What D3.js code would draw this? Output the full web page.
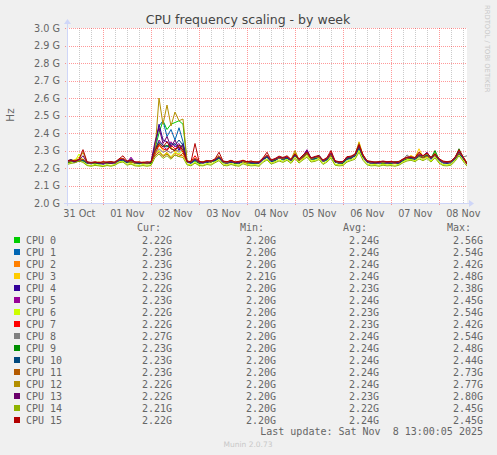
<!DOCTYPE html>
<html>
<head>
<meta charset="utf-8">
<script src="https://cdn.jsdelivr.net/npm/d3@7"></script>
<style>
  body { margin: 0; background: #f0f0f0; }
  text { font-family: "DejaVu Sans", sans-serif; }
  .mono { font-family: "DejaVu Sans Mono", monospace; }
</style>
</head>
<body>
<div id="chart"></div>
<script>
//series names + munin colours
const cpuNames = ["CPU 0","CPU 1","CPU 2","CPU 3","CPU 4","CPU 5","CPU 6","CPU 7",
  "CPU 8","CPU 9","CPU 10","CPU 11","CPU 12","CPU 13","CPU 14","CPU 15"];
const cpuColors = ["#00CC00","#0066B3","#FF8000","#FFCC00","#330099","#990099","#CCFF00","#FF0000",
  "#808080","#008F00","#00487D","#B35A00","#B38F00","#6B006B","#8FB300","#B30000"];

//samples every 2 hours from the graph start, in MHz
const startTime = new Date(2025, 9, 31, 5, 50);
const endTime = new Date(2025, 10, 8, 13, 50);
const stepHours = 2;

const cpu0 = [2235,2240,2232,2245,2240,2228,2225,2230,2222,2226, 2224,2230,2228,2245,2240,2232,2238,2226,2224,2228,
  2226,2230,2310,2400,2470,2420,2450,2460,2470,2450, 2236,2228,2240,2226,2230,2232,2242,2240,2255,2234,
  2226,2240,2228,2224,2238,2230,2226,2228,2232,2248, 2262,2240,2244,2258,2248,2262,2240,2270,2244,2262,
  2280,2248,2252,2262,2238,2250,2275,2234,2226,2228, 2250,2258,2270,2310,2262,2236,2226,2228,2232,2224,
  2226,2230,2228,2226,2242,2252,2250,2256,2270,2258, 2272,2252,2290,2246,2230,2228,2232,2254,2290,2258, 2220];
const cpu1 = [2238,2250,2236,2240,2245,2230,2228,2226,2230,2224, 2228,2226,2232,2242,2248,2230,2236,2228,2226,2230,
  2224,2228,2320,2440,2470,2380,2420,2360,2430,2350, 2240,2226,2250,2230,2226,2236,2238,2245,2262,2232,
  2230,2236,2226,2230,2240,2228,2232,2226,2230,2252, 2270,2238,2240,2262,2245,2255,2242,2280,2246,2266,
  2290,2250,2258,2272,2236,2246,2285,2236,2228,2232, 2255,2250,2278,2320,2265,2232,2230,2226,2228,2230,
  2228,2226,2232,2230,2245,2256,2262,2250,2275,2262, 2270,2250,2276,2242,2228,2232,2226,2250,2285,2254, 2230];
const cpu2 = [2232,2236,2242,2238,2250,2234,2226,2232,2228,2236, 2230,2238,2226,2252,2255,2236,2232,2230,2236,2226,
  2228,2232,2280,2300,2270,2290,2260,2285,2275,2270, 2232,2240,2255,2236,2228,2242,2232,2250,2266,2238,
  2232,2245,2230,2236,2234,2226,2240,2232,2228,2256, 2268,2242,2250,2255,2256,2260,2248,2282,2240,2258,
  2278,2255,2262,2258,2242,2255,2268,2238,2230,2236, 2262,2265,2275,2325,2275,2240,2232,2234,2228,2236,
  2230,2234,2226,2236,2248,2255,2258,2252,2268,2256, 2265,2258,2270,2250,2236,2230,2234,2256,2280,2262, 2232];
const cpu3 = [2236,2242,2248,2262,2245,2232,2230,2228,2234,2230, 2226,2232,2230,2246,2250,2234,2240,2232,2228,2234,
  2230,2226,2295,2330,2300,2310,2320,2290,2305,2315, 2238,2234,2248,2232,2236,2240,2235,2248,2260,2236,
  2228,2242,2236,2230,2246,2232,2230,2236,2234,2250, 2265,2245,2248,2262,2250,2258,2245,2290,2248,2270,
  2285,2252,2256,2266,2240,2252,2270,2240,2232,2230, 2258,2262,2270,2350,2272,2238,2230,2232,2236,2228,
  2232,2230,2236,2234,2248,2258,2272,2258,2310,2262, 2278,2256,2280,2252,2234,2236,2230,2258,2295,2260, 2232];
const cpu4 = [2230,2238,2232,2240,2246,2228,2224,2230,2226,2222, 2228,2226,2224,2240,2246,2230,2255,2226,2230,2228,
  2226,2230,2330,2450,2360,2350,2330,2340,2300,2340, 2232,2228,2246,2228,2232,2230,2240,2242,2258,2230,
  2226,2232,2230,2228,2236,2234,2228,2230,2226,2246, 2262,2236,2242,2256,2250,2258,2240,2272,2244,2264,
  2300,2248,2254,2272,2236,2248,2278,2232,2230,2226, 2250,2256,2268,2315,2262,2234,2226,2230,2228,2232,
  2226,2228,2230,2226,2242,2258,2256,2250,2268,2262, 2282,2250,2272,2244,2230,2226,2232,2252,2288,2256, 2222];
const cpu5 = [2234,2236,2240,2244,2248,2232,2230,2226,2232,2228, 2230,2234,2228,2248,2252,2232,2262,2230,2228,2232,
  2230,2226,2300,2360,2330,2300,2350,2320,2340,2300, 2236,2232,2250,2234,2230,2238,2236,2246,2262,2234,
  2232,2238,2228,2234,2240,2230,2234,2228,2232,2250, 2266,2240,2246,2260,2252,2262,2244,2276,2246,2268,
  2305,2252,2258,2266,2240,2252,2282,2236,2228,2234, 2254,2260,2272,2320,2268,2236,2232,2228,2234,2230,
  2230,2232,2228,2234,2246,2256,2260,2254,2272,2266, 2290,2254,2278,2248,2232,2230,2236,2256,2290,2258, 2232];
const cpu6 = [2225,2232,2240,2280,2236,2218,2214,2220,2216,2212, 2218,2215,2220,2235,2240,2222,2226,2218,2214,2220,
  2216,2218,2280,2300,2270,2285,2265,2290,2280,2300, 2222,2218,2232,2220,2216,2226,2222,2236,2248,2224,
  2218,2226,2220,2216,2230,2222,2218,2220,2216,2238, 2252,2228,2236,2246,2238,2250,2232,2262,2232,2252,
  2270,2240,2244,2254,2226,2240,2262,2222,2218,2220, 2240,2248,2258,2300,2250,2224,2218,2220,2216,2222,
  2218,2220,2216,2222,2236,2246,2250,2242,2260,2248, 2262,2240,2266,2234,2220,2218,2222,2244,2278,2246, 2220];
const cpu7 = [2236,2240,2238,2246,2250,2230,2228,2232,2226,2230, 2232,2228,2234,2250,2255,2236,2240,2232,2230,2226,
  2232,2228,2280,2330,2310,2300,2330,2310,2320,2290, 2238,2236,2270,2236,2232,2240,2238,2248,2270,2236,
  2230,2242,2232,2236,2240,2232,2236,2230,2234,2256, 2275,2244,2250,2262,2256,2266,2246,2280,2248,2272,
  2292,2256,2260,2268,2242,2256,2290,2240,2232,2236, 2260,2264,2276,2330,2272,2240,2234,2232,2236,2232,
  2234,2236,2230,2236,2250,2260,2262,2256,2282,2266, 2280,2258,2282,2250,2236,2232,2238,2258,2296,2262, 2222];
const cpu8 = [2232,2238,2236,2242,2248,2230,2226,2228,2232,2226, 2230,2232,2226,2244,2250,2232,2238,2228,2232,2230,
  2228,2232,2290,2310,2290,2300,2285,2305,2290,2310, 2234,2230,2250,2232,2228,2236,2240,2244,2262,2234,
  2228,2236,2232,2230,2242,2228,2232,2234,2230,2248, 2266,2242,2246,2258,2252,2260,2242,2276,2244,2266,
  2286,2250,2256,2264,2238,2250,2276,2238,2230,2232, 2256,2260,2270,2318,2266,2236,2228,2232,2230,2234,
  2228,2232,2234,2230,2246,2275,2256,2252,2270,2262, 2276,2254,2278,2246,2232,2234,2230,2254,2288,2262, 2270];
const cpu9 = [2230,2236,2240,2238,2246,2232,2228,2224,2230,2228, 2226,2232,2230,2246,2248,2234,2236,2230,2226,2232,
  2230,2226,2300,2340,2320,2330,2310,2300,2330,2320, 2236,2232,2252,2228,2234,2236,2234,2246,2260,2232,
  2230,2238,2226,2234,2238,2230,2230,2232,2228,2252, 2264,2240,2244,2260,2250,2258,2244,2278,2242,2264,
  2288,2252,2254,2268,2240,2248,2280,2236,2232,2228, 2252,2258,2272,2322,2264,2238,2232,2228,2234,2228,
  2232,2228,2236,2232,2244,2254,2258,2254,2272,2260, 2274,2256,2300,2248,2234,2230,2236,2256,2310,2260, 2230];
const cpu10 = [2240,2244,2236,2240,2242,2228,2232,2230,2226,2232, 2228,2230,2232,2244,2246,2230,2250,2232,2228,2226,
  2232,2230,2310,2350,2330,2320,2340,2330,2360,2330, 2238,2230,2248,2234,2230,2238,2236,2242,2256,2238,
  2232,2234,2230,2232,2238,2234,2230,2226,2232,2250, 2262,2238,2248,2258,2254,2256,2246,2274,2248,2262,
  2284,2254,2252,2262,2242,2250,2272,2238,2228,2234, 2254,2262,2268,2316,2270,2236,2230,2234,2230,2236,
  2230,2234,2230,2228,2244,2256,2254,2250,2266,2258, 2272,2252,2274,2244,2236,2228,2234,2250,2282,2256, 2230];
const cpu11 = [2234,2238,2244,2236,2252,2230,2230,2236,2232,2228, 2234,2236,2230,2250,2252,2238,2234,2228,2234,2230,
  2226,2234,2270,2290,2265,2280,2255,2275,2265,2285, 2236,2238,2254,2230,2236,2244,2234,2250,2264,2236,
  2230,2244,2232,2238,2236,2230,2238,2234,2230,2254, 2270,2244,2252,2256,2254,2262,2246,2284,2242,2260,
  2282,2252,2264,2260,2240,2254,2274,2240,2232,2234, 2266,2262,2278,2326,2270,2238,2234,2230,2232,2234,
  2232,2236,2228,2234,2250,2254,2260,2256,2270,2258, 2268,2256,2274,2248,2234,2232,2236,2254,2284,2264, 2230];
const cpu12 = [2236,2240,2244,2250,2290,2234,2230,2228,2234,2230, 2228,2234,2232,2248,2250,2236,2242,2230,2232,2228,
  2230,2232,2300,2600,2450,2560,2440,2520,2470,2480, 2240,2234,2256,2232,2234,2240,2238,2250,2270,2236,
  2232,2240,2230,2234,2240,2232,2236,2230,2234,2254, 2272,2242,2250,2262,2256,2264,2248,2300,2246,2268,
  2290,2254,2260,2264,2242,2256,2282,2238,2230,2234, 2258,2264,2274,2345,2272,2240,2232,2230,2234,2230,
  2234,2232,2230,2234,2248,2258,2264,2256,2290,2266, 2282,2258,2284,2250,2236,2232,2234,2258,2296,2264, 2222];
const cpu13 = [2238,2242,2236,2246,2270,2232,2228,2232,2230,2226, 2232,2228,2234,2246,2250,2234,2244,2232,2230,2232,
  2228,2234,2350,2430,2340,2380,2320,2360,2310,2330, 2236,2232,2252,2234,2230,2238,2240,2246,2264,2236,
  2234,2236,2232,2230,2242,2236,2232,2234,2230,2252, 2270,2242,2250,2262,2256,2262,2246,2280,2248,2270,
  2302,2256,2262,2270,2240,2254,2284,2238,2232,2234, 2258,2262,2276,2326,2268,2238,2234,2230,2232,2236,
  2232,2234,2232,2230,2248,2262,2260,2256,2276,2270, 2288,2256,2280,2250,2234,2232,2236,2258,2294,2262, 2222];
const cpu14 = [2220,2226,2230,2240,2232,2214,2210,2215,2212,2208, 2214,2210,2216,2230,2234,2216,2222,2212,2210,2214,
  2210,2214,2260,2280,2255,2270,2250,2275,2265,2260, 2218,2212,2228,2214,2212,2220,2216,2230,2242,2216,
  2212,2220,2214,2210,2224,2216,2212,2214,2210,2232, 2246,2222,2230,2240,2232,2244,2226,2255,2228,2246,
  2262,2234,2238,2248,2220,2234,2256,2216,2212,2214, 2234,2242,2250,2290,2244,2218,2212,2214,2210,2216,
  2212,2214,2210,2216,2230,2240,2244,2236,2252,2242, 2254,2234,2258,2228,2214,2212,2216,2238,2270,2240, 2210];
const cpu15 = [2242,2246,2240,2250,2305,2236,2232,2234,2230,2236, 2234,2236,2232,2252,2270,2240,2246,2236,2234,2232,
  2236,2234,2300,2340,2320,2350,2310,2300,2330,2300, 2240,2236,2340,2238,2234,2242,2240,2252,2290,2240,
  2236,2244,2234,2238,2244,2236,2240,2234,2236,2258, 2290,2246,2254,2268,2260,2270,2250,2280,2252,2274,
  2290,2258,2266,2272,2246,2260,2300,2242,2236,2238, 2264,2268,2280,2335,2276,2242,2238,2234,2236,2240,
  2236,2238,2234,2238,2252,2262,2264,2260,2290,2270, 2285,2262,2280,2254,2240,2236,2240,2262,2305,2266, 2222];

//legend columns
const curValues = ["2.22G","2.23G","2.23G","2.23G","2.22G","2.23G","2.22G","2.22G","2.27G","2.23G","2.23G","2.23G","2.22G","2.22G","2.21G","2.22G"];
const minValues = ["2.20G","2.20G","2.20G","2.21G","2.20G","2.20G","2.20G","2.20G","2.20G","2.20G","2.20G","2.20G","2.20G","2.20G","2.20G","2.20G"];
const avgValues = ["2.24G","2.24G","2.24G","2.24G","2.23G","2.24G","2.23G","2.23G","2.24G","2.24G","2.24G","2.24G","2.24G","2.23G","2.22G","2.24G"];
const maxValues = ["2.56G","2.54G","2.42G","2.48G","2.38G","2.45G","2.54G","2.42G","2.54G","2.48G","2.44G","2.73G","2.77G","2.80G","2.45G","2.45G"];

//y ticks in Hz
const yTicks = [2.0e9,2.1e9,2.2e9,2.3e9,2.4e9,2.5e9,2.6e9,2.7e9,2.8e9,2.9e9,3.0e9];

const allSeries = [cpu0,cpu1,cpu2,cpu3,cpu4,cpu5,cpu6,cpu7,cpu8,cpu9,cpu10,cpu11,cpu12,cpu13,cpu14,cpu15];

//chart size
const width = 497;
const height = 455;
const plot = { left: 67, right: 467, top: 28, bottom: 203 };

const svg = d3.select("#chart")
  .append("svg")
  .attr("width", width)
  .attr("height", height);

svg.append("rect").attr("width", width).attr("height", height).attr("fill", "#f0f0f0");

const xScale = d3.scaleTime()
  .domain([startTime, endTime])
  .range([plot.left, plot.right]);

const yScale = d3.scaleLinear()
  .domain([2.0e9, 3.0e9])
  .range([plot.bottom, plot.top]);

//canvas
svg.append("rect")
  .attr("x", plot.left).attr("y", plot.top)
  .attr("width", plot.right - plot.left).attr("height", plot.bottom - plot.top)
  .attr("fill", "#ffffff");

//vertical grid: minor every 6h, major at midnight
const gridTimes = d3.timeHour.every(6).range(startTime, endTime);
svg.append("g")
  .selectAll("line")
  .data(gridTimes)
  .join("line")
  .attr("x1", d => Math.round(xScale(d)) + 0.5)
  .attr("x2", d => Math.round(xScale(d)) + 0.5)
  .attr("y1", plot.top)
  .attr("y2", d => d.getHours() === 0 ? plot.bottom + 3 : plot.bottom)
  .attr("stroke", d => d.getHours() === 0 ? "#ff0000" : "#8c8c8c")
  .attr("stroke-opacity", d => d.getHours() === 0 ? 0.4 : 0.45)
  .attr("stroke-dasharray", "1,1");

//horizontal grid
svg.append("g")
  .selectAll("line")
  .data(yTicks)
  .join("line")
  .attr("x1", plot.left - 2)
  .attr("x2", plot.right)
  .attr("y1", d => Math.round(yScale(d)) + 0.5)
  .attr("y2", d => Math.round(yScale(d)) + 0.5)
  .attr("stroke", "#ff0000")
  .attr("stroke-opacity", 0.4)
  .attr("stroke-dasharray", "1,1");

//data lines
svg.append("clipPath").attr("id", "clip")
  .append("rect")
  .attr("x", plot.left).attr("y", plot.top)
  .attr("width", plot.right - plot.left).attr("height", plot.bottom - plot.top);

const line = d3.line()
  .x((d, i) => xScale(d3.timeHour.offset(startTime, i * stepHours)))
  .y(d => yScale(d * 1e6));

svg.append("g")
  .attr("clip-path", "url(#clip)")
  .selectAll("path")
  .data(allSeries)
  .join("path")
  .attr("d", line)
  .attr("fill", "none")
  .attr("stroke", (d, i) => cpuColors[i])
  .attr("stroke-width", 1)
  .attr("stroke-linejoin", "miter");

//axes with arrows
const axisColor = "#CFD6F8";
svg.append("line")
  .attr("x1", plot.left - 3).attr("x2", plot.right + 2)
  .attr("y1", plot.bottom + 0.5).attr("y2", plot.bottom + 0.5)
  .attr("stroke", axisColor);
svg.append("line")
  .attr("x1", plot.left + 0.5).attr("x2", plot.left + 0.5)
  .attr("y1", plot.bottom + 3).attr("y2", plot.top - 4)
  .attr("stroke", axisColor);
svg.append("path")
  .attr("d", `M${plot.right + 2},${plot.bottom - 3} L${plot.right + 7},${plot.bottom + 0.5} L${plot.right + 2},${plot.bottom + 4} Z`)
  .attr("fill", axisColor);
svg.append("path")
  .attr("d", `M${plot.left - 3},${plot.top - 4} L${plot.left + 0.5},${plot.top - 9} L${plot.left + 4},${plot.top - 4} Z`)
  .attr("fill", axisColor);

//y tick labels
svg.append("g")
  .selectAll("text")
  .data(yTicks)
  .join("text")
  .attr("x", plot.left - 7)
  .attr("y", d => yScale(d) + 3.5)
  .attr("text-anchor", "end")
  .attr("font-size", "9.7px")
  .attr("fill", "#666666")
  .text(d => (d / 1e9).toFixed(1) + " G");

//x labels at noon of each day
const dayLabels = d3.timeDay.range(d3.timeDay.floor(startTime), endTime)
  .map(d => d3.timeHour.offset(d, 12))
  .filter(d => d >= startTime && d <= endTime);
svg.append("g")
  .selectAll("text")
  .data(dayLabels)
  .join("text")
  .attr("x", d => xScale(d))
  .attr("y", plot.bottom + 14)
  .attr("text-anchor", "middle")
  .attr("font-size", "9.7px")
  .attr("fill", "#666666")
  .text(d3.timeFormat("%d %b"));

//title + unit label
svg.append("text")
  .attr("x", 248).attr("y", 24)
  .attr("text-anchor", "middle")
  .attr("font-size", "12.5px")
  .attr("fill", "#444444")
  .text("CPU frequency scaling - by week");

svg.append("text")
  .attr("transform", "translate(14,115) rotate(-90)")
  .attr("text-anchor", "middle")
  .attr("font-size", "10.5px")
  .attr("fill", "#666666")
  .text("Hz");

svg.append("text")
  .attr("transform", "translate(485,5) rotate(90)")
  .attr("font-size", "6.8px")
  .attr("fill", "#c8c8c8")
  .text("RRDTOOL / TOBI OETIKER");

//legend
const legend = svg.append("g").attr("class", "mono");
const colLeft = [137, 240, 343, 447];
const colRight = [172, 276, 379, 483];
["Cur:", "Min:", "Avg:", "Max:"].forEach((h, k) => {
  legend.append("text")
    .attr("class", "mono")
    .attr("x", colLeft[k]).attr("y", 231)
    .attr("font-size", "10px")
    .attr("fill", "#666666")
    .text(h);
});

const rows = legend.selectAll("g.row")
  .data(cpuNames)
  .join("g")
  .attr("class", "row")
  .attr("transform", (d, i) => `translate(0,${240 + i * 12})`);

rows.append("rect")
  .attr("x", 14).attr("y", -3)
  .attr("width", 6).attr("height", 6)
  .attr("fill", (d, i) => cpuColors[i]);

rows.append("text")
  .attr("class", "mono")
  .attr("x", 26).attr("y", 3.5)
  .attr("font-size", "10px")
  .attr("fill", "#666666")
  .text(d => d);

[curValues, minValues, avgValues, maxValues].forEach((vals, k) => {
  rows.append("text")
    .attr("class", "mono")
    .attr("x", colRight[k]).attr("y", 3.5)
    .attr("text-anchor", "end")
    .attr("font-size", "10px")
    .attr("fill", "#666666")
    .text((d, i) => vals[i]);
});

legend.append("text")
  .attr("class", "mono")
  .attr("x", 483).attr("y", 435)
  .attr("text-anchor", "end")
  .attr("font-size", "10px")
  .attr("fill", "#666666")
  .attr("xml:space", "preserve")
  .style("white-space", "pre")
  .text("Last update: Sat Nov  8 13:00:05 2025");

svg.append("text")
  .attr("x", 248).attr("y", 447)
  .attr("text-anchor", "middle")
  .attr("font-size", "7.5px")
  .attr("fill", "#c8c8c8")
  .text("Munin 2.0.73");
</script>
</body>
</html>
